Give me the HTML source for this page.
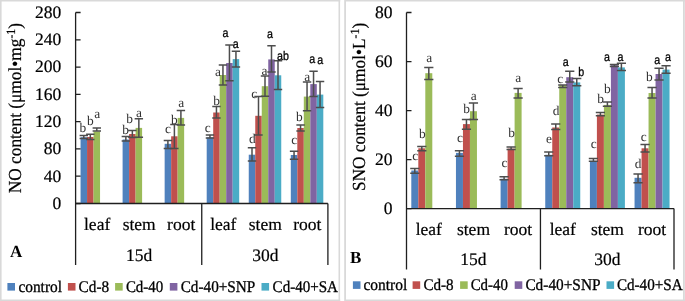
<!DOCTYPE html><html><head><meta charset="utf-8"><style>html,body{margin:0;padding:0;background:#fff;}svg{display:block;will-change:transform;text-rendering:geometricPrecision;}</style></head><body>
<svg width="685" height="301" viewBox="0 0 685 301">
<rect width="685" height="301" fill="#fff"/>
<path d="M0.8 0V301M0 0.7H340.3M339.3 0V301M0 300.3H340.3" stroke="#d9d9d9" stroke-width="1.6" fill="none"/>
<path d="M345.1 0V301M344.2 0.7H685M683.9 0V301M344.2 300.3H685" stroke="#d9d9d9" stroke-width="1.8" fill="none"/>
<rect x="80.55" y="137.2" width="6.5" height="66.3" fill="#4F81BD"/>
<rect x="87.05" y="137" width="6.5" height="66.5" fill="#C0504D"/>
<rect x="93.55" y="131.5" width="6.5" height="72" fill="#9BBB59"/>
<rect x="122.6" y="139.5" width="6.5" height="64" fill="#4F81BD"/>
<rect x="129.1" y="134" width="6.5" height="69.5" fill="#C0504D"/>
<rect x="135.6" y="127.9" width="6.5" height="75.6" fill="#9BBB59"/>
<rect x="164.65" y="143.8" width="6.5" height="59.7" fill="#4F81BD"/>
<rect x="171.15" y="136.3" width="6.5" height="67.2" fill="#C0504D"/>
<rect x="177.65" y="117.9" width="6.5" height="85.6" fill="#9BBB59"/>
<rect x="206.7" y="137.4" width="6.5" height="66.1" fill="#4F81BD"/>
<rect x="213.2" y="112.5" width="6.5" height="91" fill="#C0504D"/>
<rect x="219.7" y="75" width="6.5" height="128.5" fill="#9BBB59"/>
<rect x="226.2" y="63" width="6.5" height="140.5" fill="#8064A2"/>
<rect x="232.7" y="59.1" width="6.5" height="144.4" fill="#4BACC6"/>
<rect x="248.75" y="154.7" width="6.5" height="48.8" fill="#4F81BD"/>
<rect x="255.25" y="115.8" width="6.5" height="87.7" fill="#C0504D"/>
<rect x="261.75" y="86.2" width="6.5" height="117.3" fill="#9BBB59"/>
<rect x="268.25" y="59.4" width="6.5" height="144.1" fill="#8064A2"/>
<rect x="274.75" y="75.3" width="6.5" height="128.2" fill="#4BACC6"/>
<rect x="290.8" y="155" width="6.5" height="48.5" fill="#4F81BD"/>
<rect x="297.3" y="128" width="6.5" height="75.5" fill="#C0504D"/>
<rect x="303.8" y="96.6" width="6.5" height="106.9" fill="#9BBB59"/>
<rect x="310.3" y="84.1" width="6.5" height="119.4" fill="#8064A2"/>
<rect x="316.8" y="94.6" width="6.5" height="108.9" fill="#4BACC6"/>
<path d="M83.8 135.6V138.6M79.6 135.6H88M79.6 138.6H88" stroke="#4d4d4d" stroke-width="1.5" fill="none"/>
<path d="M90.3 134.3V139.6M86.1 134.3H94.5M86.1 139.6H94.5" stroke="#4d4d4d" stroke-width="1.5" fill="none"/>
<path d="M96.8 128V131M92.6 128H101M92.6 131H101" stroke="#4d4d4d" stroke-width="1.5" fill="none"/>
<path d="M125.85 136.4V141M121.65 136.4H130.05M121.65 141H130.05" stroke="#4d4d4d" stroke-width="1.5" fill="none"/>
<path d="M132.35 130.6V137.6M128.15 130.6H136.55M128.15 137.6H136.55" stroke="#4d4d4d" stroke-width="1.5" fill="none"/>
<path d="M138.85 118.8V137.2M134.65 118.8H143.05M134.65 137.2H143.05" stroke="#4d4d4d" stroke-width="1.5" fill="none"/>
<path d="M167.9 140.4V148.4M163.7 140.4H172.1M163.7 148.4H172.1" stroke="#4d4d4d" stroke-width="1.5" fill="none"/>
<path d="M174.4 124.5V148.4M170.2 124.5H178.6M170.2 148.4H178.6" stroke="#4d4d4d" stroke-width="1.5" fill="none"/>
<path d="M180.9 110.6V124.9M176.7 110.6H185.1M176.7 124.9H185.1" stroke="#4d4d4d" stroke-width="1.5" fill="none"/>
<path d="M209.95 134.9V137.9M205.75 134.9H214.15M205.75 137.9H214.15" stroke="#4d4d4d" stroke-width="1.5" fill="none"/>
<path d="M216.45 106.6V117.9M212.25 106.6H220.65M212.25 117.9H220.65" stroke="#4d4d4d" stroke-width="1.5" fill="none"/>
<path d="M222.95 65V84.9M218.75 65H227.15M218.75 84.9H227.15" stroke="#4d4d4d" stroke-width="1.5" fill="none"/>
<path d="M229.45 44.9V80.8M225.25 44.9H233.65M225.25 80.8H233.65" stroke="#4d4d4d" stroke-width="1.5" fill="none"/>
<path d="M235.95 51.2V67M231.75 51.2H240.15M231.75 67H240.15" stroke="#4d4d4d" stroke-width="1.5" fill="none"/>
<path d="M252 147.7V160.9M247.8 147.7H256.2M247.8 160.9H256.2" stroke="#4d4d4d" stroke-width="1.5" fill="none"/>
<path d="M258.5 96.6V134.9M254.3 96.6H262.7M254.3 134.9H262.7" stroke="#4d4d4d" stroke-width="1.5" fill="none"/>
<path d="M265 76.1V96.3M260.8 76.1H269.2M260.8 96.3H269.2" stroke="#4d4d4d" stroke-width="1.5" fill="none"/>
<path d="M271.5 45.8V72M267.3 45.8H275.7M267.3 72H275.7" stroke="#4d4d4d" stroke-width="1.5" fill="none"/>
<path d="M278 60.7V89.6M273.8 60.7H282.2M273.8 89.6H282.2" stroke="#4d4d4d" stroke-width="1.5" fill="none"/>
<path d="M294.05 151.2V159.2M289.85 151.2H298.25M289.85 159.2H298.25" stroke="#4d4d4d" stroke-width="1.5" fill="none"/>
<path d="M300.55 124.9V131M296.35 124.9H304.75M296.35 131H304.75" stroke="#4d4d4d" stroke-width="1.5" fill="none"/>
<path d="M307.05 82V110.7M302.85 82H311.25M302.85 110.7H311.25" stroke="#4d4d4d" stroke-width="1.5" fill="none"/>
<path d="M313.55 71.2V96.6M309.35 71.2H317.75M309.35 96.6H317.75" stroke="#4d4d4d" stroke-width="1.5" fill="none"/>
<path d="M320.05 81.6V107.4M315.85 81.6H324.25M315.85 107.4H324.25" stroke="#4d4d4d" stroke-width="1.5" fill="none"/>
<path d="M75.6 12.5V265M75.6 203.5H327.9M327.9 203.5V265M201.75 203.5V265" stroke="#1f1f1f" stroke-width="1.3" fill="none"/>
<path d="M75.6 203.5H80.6M75.6 176.21H80.6M75.6 148.93H80.6M75.6 121.64H80.6M75.6 94.36H80.6M75.6 67.07H80.6M75.6 39.79H80.6M75.6 12.5H80.6" stroke="#1f1f1f" stroke-width="1.3" fill="none"/>
<text x="61.3" y="208.9" text-anchor="end" font-family='"Liberation Serif", serif' font-size="17.5" stroke="#000" stroke-width="0.2">0</text>
<text x="61.3" y="181.61" text-anchor="end" font-family='"Liberation Serif", serif' font-size="17.5" stroke="#000" stroke-width="0.2">40</text>
<text x="61.3" y="154.33" text-anchor="end" font-family='"Liberation Serif", serif' font-size="17.5" stroke="#000" stroke-width="0.2">80</text>
<text x="61.3" y="127.04" text-anchor="end" font-family='"Liberation Serif", serif' font-size="17.5" stroke="#000" stroke-width="0.2">120</text>
<text x="61.3" y="99.76" text-anchor="end" font-family='"Liberation Serif", serif' font-size="17.5" stroke="#000" stroke-width="0.2">160</text>
<text x="61.3" y="72.47" text-anchor="end" font-family='"Liberation Serif", serif' font-size="17.5" stroke="#000" stroke-width="0.2">200</text>
<text x="61.3" y="45.19" text-anchor="end" font-family='"Liberation Serif", serif' font-size="17.5" stroke="#000" stroke-width="0.2">240</text>
<text x="61.3" y="17.9" text-anchor="end" font-family='"Liberation Serif", serif' font-size="17.5" stroke="#000" stroke-width="0.2">280</text>
<text x="97.12" y="229.7" text-anchor="middle" font-family='"Liberation Serif", serif' font-size="17.5" stroke="#000" stroke-width="0.2">leaf</text>
<text x="139.17" y="229.7" text-anchor="middle" font-family='"Liberation Serif", serif' font-size="17.5" stroke="#000" stroke-width="0.2">stem</text>
<text x="181.22" y="229.7" text-anchor="middle" font-family='"Liberation Serif", serif' font-size="17.5" stroke="#000" stroke-width="0.2">root</text>
<text x="223.28" y="229.7" text-anchor="middle" font-family='"Liberation Serif", serif' font-size="17.5" stroke="#000" stroke-width="0.2">leaf</text>
<text x="265.32" y="229.7" text-anchor="middle" font-family='"Liberation Serif", serif' font-size="17.5" stroke="#000" stroke-width="0.2">stem</text>
<text x="307.38" y="229.7" text-anchor="middle" font-family='"Liberation Serif", serif' font-size="17.5" stroke="#000" stroke-width="0.2">root</text>
<text x="139.17" y="260.5" text-anchor="middle" font-family='"Liberation Serif", serif' font-size="17.5" stroke="#000" stroke-width="0.2">15d</text>
<text x="265.32" y="260.5" text-anchor="middle" font-family='"Liberation Serif", serif' font-size="17.5" stroke="#000" stroke-width="0.2">30d</text>
<text x="82.95" y="132.4" text-anchor="middle" font-family='"Liberation Serif", serif' font-size="13.4" fill="#333333">b</text>
<text x="90.25" y="125.4" text-anchor="middle" font-family='"Liberation Serif", serif' font-size="13.4" fill="#333333">b</text>
<text x="97.3" y="117.7" text-anchor="middle" font-family='"Liberation Serif", serif' font-size="13.4" fill="#333333">a</text>
<text x="125.65" y="133.8" text-anchor="middle" font-family='"Liberation Serif", serif' font-size="13.4" fill="#333333">b</text>
<text x="129.6" y="122.7" text-anchor="middle" font-family='"Liberation Serif", serif' font-size="13.4" fill="#333333">b</text>
<text x="138.95" y="117" text-anchor="middle" font-family='"Liberation Serif", serif' font-size="13.4" fill="#333333">a</text>
<text x="168.1" y="133.4" text-anchor="middle" font-family='"Liberation Serif", serif' font-size="13.4" fill="#333333">c</text>
<text x="174.3" y="124.4" text-anchor="middle" font-family='"Liberation Serif", serif' font-size="13.4" fill="#333333">b</text>
<text x="181.3" y="107" text-anchor="middle" font-family='"Liberation Serif", serif' font-size="13.4" fill="#333333">a</text>
<text x="207.65" y="131.6" text-anchor="middle" font-family='"Liberation Serif", serif' font-size="13.4" fill="#333333">c</text>
<text x="216.5" y="104.9" text-anchor="middle" font-family='"Liberation Serif", serif' font-size="13.4" fill="#333333">b</text>
<text x="217.95" y="76.4" text-anchor="middle" font-family='"Liberation Serif", serif' font-size="13.4" fill="#333333">a</text>
<text transform="translate(225.4 37.4) scale(0.86 1)" text-anchor="middle" font-family='"Liberation Sans", sans-serif' font-size="12.4" fill="#000" stroke="#000" stroke-width="0.3">a</text>
<text transform="translate(235.8 47.7) scale(0.86 1)" text-anchor="middle" font-family='"Liberation Sans", sans-serif' font-size="12.4" fill="#000" stroke="#000" stroke-width="0.3">a</text>
<text x="252.45" y="143.4" text-anchor="middle" font-family='"Liberation Serif", serif' font-size="13.4" fill="#333333">d</text>
<text x="254.3" y="97.8" text-anchor="middle" font-family='"Liberation Serif", serif' font-size="13.4" fill="#333333">c</text>
<text x="264.45" y="75.4" text-anchor="middle" font-family='"Liberation Serif", serif' font-size="13.4" fill="#333333">a</text>
<text transform="translate(270 37.8) scale(0.86 1)" text-anchor="middle" font-family='"Liberation Sans", sans-serif' font-size="12.4" fill="#000" stroke="#000" stroke-width="0.3">a</text>
<text transform="translate(282.9 60.2) scale(0.86 1)" text-anchor="middle" font-family='"Liberation Sans", sans-serif' font-size="12.4" fill="#000" stroke="#000" stroke-width="0.3">ab</text>
<text x="294.3" y="144.3" text-anchor="middle" font-family='"Liberation Serif", serif' font-size="13.4" fill="#333333">c</text>
<text x="299.25" y="121.4" text-anchor="middle" font-family='"Liberation Serif", serif' font-size="13.4" fill="#333333">b</text>
<text x="307.15" y="81.1" text-anchor="middle" font-family='"Liberation Serif", serif' font-size="13.4" fill="#333333">a</text>
<text transform="translate(312.25 62.5) scale(0.86 1)" text-anchor="middle" font-family='"Liberation Sans", sans-serif' font-size="12.4" fill="#000" stroke="#000" stroke-width="0.3">a</text>
<text transform="translate(320.15 64.1) scale(0.86 1)" text-anchor="middle" font-family='"Liberation Sans", sans-serif' font-size="12.4" fill="#000" stroke="#000" stroke-width="0.3">a</text>
<text transform="translate(20.8 193.2) rotate(-90) scale(0.988 1.05)" font-family='"Liberation Serif", serif' font-size="17.5" stroke="#000" stroke-width="0.2">NO content (μmol•mg<tspan font-size="12" dy="-5.3">-1</tspan><tspan dy="5.3">)</tspan></text>
<text x="10" y="256.6" font-family='"Liberation Serif", serif' font-weight="bold" font-size="17">A</text>
<rect x="411.3" y="170.5" width="7" height="38.1" fill="#4F81BD"/>
<rect x="418.3" y="148.3" width="7" height="60.3" fill="#C0504D"/>
<rect x="425.3" y="73.2" width="7" height="135.4" fill="#9BBB59"/>
<rect x="455.95" y="152.9" width="7" height="55.7" fill="#4F81BD"/>
<rect x="462.95" y="124.1" width="7" height="84.5" fill="#C0504D"/>
<rect x="469.95" y="111.2" width="7" height="97.4" fill="#9BBB59"/>
<rect x="500.6" y="178.8" width="7" height="29.8" fill="#4F81BD"/>
<rect x="507.6" y="148.6" width="7" height="60" fill="#C0504D"/>
<rect x="514.6" y="92.9" width="7" height="115.7" fill="#9BBB59"/>
<rect x="545.25" y="154.8" width="7" height="53.8" fill="#4F81BD"/>
<rect x="552.25" y="127.5" width="7" height="81.1" fill="#C0504D"/>
<rect x="559.25" y="85.2" width="7" height="123.4" fill="#9BBB59"/>
<rect x="566.25" y="77.2" width="7" height="131.4" fill="#8064A2"/>
<rect x="573.25" y="82.4" width="7" height="126.2" fill="#4BACC6"/>
<rect x="589.9" y="161.2" width="7" height="47.4" fill="#4F81BD"/>
<rect x="596.9" y="114.6" width="7" height="94" fill="#C0504D"/>
<rect x="603.9" y="104.9" width="7" height="103.7" fill="#9BBB59"/>
<rect x="610.9" y="65.2" width="7" height="143.4" fill="#8064A2"/>
<rect x="617.9" y="67.4" width="7" height="141.2" fill="#4BACC6"/>
<rect x="634.55" y="177.8" width="7" height="30.8" fill="#4F81BD"/>
<rect x="641.55" y="148.3" width="7" height="60.3" fill="#C0504D"/>
<rect x="648.55" y="93" width="7" height="115.6" fill="#9BBB59"/>
<rect x="655.55" y="74" width="7" height="134.6" fill="#8064A2"/>
<rect x="662.55" y="69.6" width="7" height="139" fill="#4BACC6"/>
<path d="M414.8 168.5V173.2M410.2 168.5H419.4M410.2 173.2H419.4" stroke="#4d4d4d" stroke-width="1.5" fill="none"/>
<path d="M421.8 146.6V150.8M417.2 146.6H426.4M417.2 150.8H426.4" stroke="#4d4d4d" stroke-width="1.5" fill="none"/>
<path d="M428.8 67.4V79.4M424.2 67.4H433.4M424.2 79.4H433.4" stroke="#4d4d4d" stroke-width="1.5" fill="none"/>
<path d="M459.45 150.7V156.2M454.85 150.7H464.05M454.85 156.2H464.05" stroke="#4d4d4d" stroke-width="1.5" fill="none"/>
<path d="M466.45 119.4V129.3M461.85 119.4H471.05M461.85 129.3H471.05" stroke="#4d4d4d" stroke-width="1.5" fill="none"/>
<path d="M473.45 102.9V119.5M468.85 102.9H478.05M468.85 119.5H478.05" stroke="#4d4d4d" stroke-width="1.5" fill="none"/>
<path d="M504.1 176.8V179.8M499.5 176.8H508.7M499.5 179.8H508.7" stroke="#4d4d4d" stroke-width="1.5" fill="none"/>
<path d="M511.1 146.9V149.5M506.5 146.9H515.7M506.5 149.5H515.7" stroke="#4d4d4d" stroke-width="1.5" fill="none"/>
<path d="M518.1 88.6V97.9M513.5 88.6H522.7M513.5 97.9H522.7" stroke="#4d4d4d" stroke-width="1.5" fill="none"/>
<path d="M548.75 151.9V155.8M544.15 151.9H553.35M544.15 155.8H553.35" stroke="#4d4d4d" stroke-width="1.5" fill="none"/>
<path d="M555.75 124V129.5M551.15 124H560.35M551.15 129.5H560.35" stroke="#4d4d4d" stroke-width="1.5" fill="none"/>
<path d="M562.75 84.9V87.4M558.15 84.9H567.35M558.15 87.4H567.35" stroke="#4d4d4d" stroke-width="1.5" fill="none"/>
<path d="M569.75 71.2V81.9M565.15 71.2H574.35M565.15 81.9H574.35" stroke="#4d4d4d" stroke-width="1.5" fill="none"/>
<path d="M576.75 78.5V85.7M572.15 78.5H581.35M572.15 85.7H581.35" stroke="#4d4d4d" stroke-width="1.5" fill="none"/>
<path d="M593.4 158.6V161.2M588.8 158.6H598M588.8 161.2H598" stroke="#4d4d4d" stroke-width="1.5" fill="none"/>
<path d="M600.4 112.4V115.7M595.8 112.4H605M595.8 115.7H605" stroke="#4d4d4d" stroke-width="1.5" fill="none"/>
<path d="M607.4 101.9V106.2M602.8 101.9H612M602.8 106.2H612" stroke="#4d4d4d" stroke-width="1.5" fill="none"/>
<path d="M614.4 64.6V66.6M609.8 64.6H619M609.8 66.6H619" stroke="#4d4d4d" stroke-width="1.5" fill="none"/>
<path d="M621.4 63.3V70.4M616.8 63.3H626M616.8 70.4H626" stroke="#4d4d4d" stroke-width="1.5" fill="none"/>
<path d="M638.05 173.9V182.8M633.45 173.9H642.65M633.45 182.8H642.65" stroke="#4d4d4d" stroke-width="1.5" fill="none"/>
<path d="M645.05 144.4V151.9M640.45 144.4H649.65M640.45 151.9H649.65" stroke="#4d4d4d" stroke-width="1.5" fill="none"/>
<path d="M652.05 87.5V97.9M647.45 87.5H656.65M647.45 97.9H656.65" stroke="#4d4d4d" stroke-width="1.5" fill="none"/>
<path d="M659.05 68.2V79.9M654.45 68.2H663.65M654.45 79.9H663.65" stroke="#4d4d4d" stroke-width="1.5" fill="none"/>
<path d="M666.05 65.7V73.2M661.45 65.7H670.65M661.45 73.2H670.65" stroke="#4d4d4d" stroke-width="1.5" fill="none"/>
<path d="M406.5 12.5V269.5M406.5 208.6H674M674 208.6V269.5M540.45 208.6V269.5" stroke="#1f1f1f" stroke-width="1.3" fill="none"/>
<path d="M406.5 208.6H411.5M406.5 159.57H411.5M406.5 110.55H411.5M406.5 61.53H411.5M406.5 12.5H411.5" stroke="#1f1f1f" stroke-width="1.3" fill="none"/>
<text x="392.4" y="214" text-anchor="end" font-family='"Liberation Serif", serif' font-size="17.5" stroke="#000" stroke-width="0.2">0</text>
<text x="392.4" y="164.97" text-anchor="end" font-family='"Liberation Serif", serif' font-size="17.5" stroke="#000" stroke-width="0.2">20</text>
<text x="392.4" y="115.95" text-anchor="end" font-family='"Liberation Serif", serif' font-size="17.5" stroke="#000" stroke-width="0.2">40</text>
<text x="392.4" y="66.93" text-anchor="end" font-family='"Liberation Serif", serif' font-size="17.5" stroke="#000" stroke-width="0.2">60</text>
<text x="392.4" y="17.9" text-anchor="end" font-family='"Liberation Serif", serif' font-size="17.5" stroke="#000" stroke-width="0.2">80</text>
<text x="428.82" y="234.9" text-anchor="middle" font-family='"Liberation Serif", serif' font-size="17.5" stroke="#000" stroke-width="0.2">leaf</text>
<text x="473.47" y="234.9" text-anchor="middle" font-family='"Liberation Serif", serif' font-size="17.5" stroke="#000" stroke-width="0.2">stem</text>
<text x="518.12" y="234.9" text-anchor="middle" font-family='"Liberation Serif", serif' font-size="17.5" stroke="#000" stroke-width="0.2">root</text>
<text x="562.78" y="234.9" text-anchor="middle" font-family='"Liberation Serif", serif' font-size="17.5" stroke="#000" stroke-width="0.2">leaf</text>
<text x="607.43" y="234.9" text-anchor="middle" font-family='"Liberation Serif", serif' font-size="17.5" stroke="#000" stroke-width="0.2">stem</text>
<text x="652.08" y="234.9" text-anchor="middle" font-family='"Liberation Serif", serif' font-size="17.5" stroke="#000" stroke-width="0.2">root</text>
<text x="473.48" y="265.1" text-anchor="middle" font-family='"Liberation Serif", serif' font-size="17.5" stroke="#000" stroke-width="0.2">15d</text>
<text x="607.42" y="265.1" text-anchor="middle" font-family='"Liberation Serif", serif' font-size="17.5" stroke="#000" stroke-width="0.2">30d</text>
<text x="415.3" y="160" text-anchor="middle" font-family='"Liberation Serif", serif' font-size="13.4" fill="#333333">c</text>
<text x="422.3" y="137.9" text-anchor="middle" font-family='"Liberation Serif", serif' font-size="13.4" fill="#333333">b</text>
<text x="429.25" y="62.3" text-anchor="middle" font-family='"Liberation Serif", serif' font-size="13.4" fill="#333333">a</text>
<text x="460.05" y="142" text-anchor="middle" font-family='"Liberation Serif", serif' font-size="13.4" fill="#333333">c</text>
<text x="466.5" y="112.8" text-anchor="middle" font-family='"Liberation Serif", serif' font-size="13.4" fill="#333333">b</text>
<text x="473.8" y="100.3" text-anchor="middle" font-family='"Liberation Serif", serif' font-size="13.4" fill="#333333">a</text>
<text x="504.5" y="167.3" text-anchor="middle" font-family='"Liberation Serif", serif' font-size="13.4" fill="#333333">c</text>
<text x="511.6" y="136.7" text-anchor="middle" font-family='"Liberation Serif", serif' font-size="13.4" fill="#333333">b</text>
<text x="518.3" y="82.3" text-anchor="middle" font-family='"Liberation Serif", serif' font-size="13.4" fill="#333333">a</text>
<text x="549.1" y="142.7" text-anchor="middle" font-family='"Liberation Serif", serif' font-size="13.4" fill="#333333">e</text>
<text x="556.1" y="115.4" text-anchor="middle" font-family='"Liberation Serif", serif' font-size="13.4" fill="#333333">d</text>
<text x="560.3" y="83.4" text-anchor="middle" font-family='"Liberation Serif", serif' font-size="13.4" fill="#333333">c</text>
<text transform="translate(565.7 66.3) scale(0.86 1)" text-anchor="middle" font-family='"Liberation Sans", sans-serif' font-size="12.4" fill="#000" stroke="#000" stroke-width="0.3">a</text>
<text transform="translate(581.1 75.8) scale(0.86 1)" text-anchor="middle" font-family='"Liberation Sans", sans-serif' font-size="12.4" fill="#000" stroke="#000" stroke-width="0.3">b</text>
<text x="593.85" y="148.3" text-anchor="middle" font-family='"Liberation Serif", serif' font-size="13.4" fill="#333333">c</text>
<text x="600.5" y="102.8" text-anchor="middle" font-family='"Liberation Serif", serif' font-size="13.4" fill="#333333">b</text>
<text x="607.3" y="93.4" text-anchor="middle" font-family='"Liberation Serif", serif' font-size="13.4" fill="#333333">b</text>
<text transform="translate(606.85 61.1) scale(0.86 1)" text-anchor="middle" font-family='"Liberation Sans", sans-serif' font-size="12.4" fill="#000" stroke="#000" stroke-width="0.3">a</text>
<text transform="translate(620.55 61.1) scale(0.86 1)" text-anchor="middle" font-family='"Liberation Sans", sans-serif' font-size="12.4" fill="#000" stroke="#000" stroke-width="0.3">a</text>
<text x="638" y="167.9" text-anchor="middle" font-family='"Liberation Serif", serif' font-size="13.4" fill="#333333">d</text>
<text x="643.8" y="141.4" text-anchor="middle" font-family='"Liberation Serif", serif' font-size="13.4" fill="#333333">c</text>
<text x="649.4" y="80.6" text-anchor="middle" font-family='"Liberation Serif", serif' font-size="13.4" fill="#333333">b</text>
<text transform="translate(657.25 64.4) scale(0.86 1)" text-anchor="middle" font-family='"Liberation Sans", sans-serif' font-size="12.4" fill="#000" stroke="#000" stroke-width="0.3">a</text>
<text transform="translate(667.95 61.1) scale(0.86 1)" text-anchor="middle" font-family='"Liberation Sans", sans-serif' font-size="12.4" fill="#000" stroke="#000" stroke-width="0.3">a</text>
<text transform="translate(364.6 191.1) rotate(-90) scale(0.988 1.05)" font-family='"Liberation Serif", serif' font-size="17.5" stroke="#000" stroke-width="0.2">SNO content (μmol•L<tspan font-size="12" dy="-5.3">-1</tspan><tspan dy="5.3">)</tspan></text>
<text x="350" y="262.6" font-family='"Liberation Serif", serif' font-weight="bold" font-size="17">B</text>
<rect x="7.4" y="283" width="7.6" height="7.6" fill="#4F81BD"/>
<text x="18.4" y="292" font-family='"Liberation Serif", serif' font-size="16.3" stroke="#000" stroke-width="0.3" textLength="43.6" lengthAdjust="spacingAndGlyphs">control</text>
<rect x="67.9" y="283" width="7.6" height="7.6" fill="#C0504D"/>
<text x="78.6" y="292" font-family='"Liberation Serif", serif' font-size="16.3" stroke="#000" stroke-width="0.3" textLength="30.5" lengthAdjust="spacingAndGlyphs">Cd-8</text>
<rect x="115.1" y="283" width="7.6" height="7.6" fill="#9BBB59"/>
<text x="125.9" y="292" font-family='"Liberation Serif", serif' font-size="16.3" stroke="#000" stroke-width="0.3" textLength="37.4" lengthAdjust="spacingAndGlyphs">Cd-40</text>
<rect x="169.8" y="283" width="7.6" height="7.6" fill="#8064A2"/>
<text x="180.7" y="292" font-family='"Liberation Serif", serif' font-size="16.3" stroke="#000" stroke-width="0.3" textLength="74.6" lengthAdjust="spacingAndGlyphs">Cd-40+SNP</text>
<rect x="261.5" y="283" width="7.6" height="7.6" fill="#4BACC6"/>
<text x="272.6" y="292" font-family='"Liberation Serif", serif' font-size="16.3" stroke="#000" stroke-width="0.3" textLength="65.4" lengthAdjust="spacingAndGlyphs">Cd-40+SA</text>
<rect x="352.9" y="281.3" width="7.6" height="7.6" fill="#4F81BD"/>
<text x="363.5" y="290.3" font-family='"Liberation Serif", serif' font-size="16.3" stroke="#000" stroke-width="0.3" textLength="43.8" lengthAdjust="spacingAndGlyphs">control</text>
<rect x="412.6" y="281.3" width="7.6" height="7.6" fill="#C0504D"/>
<text x="423.4" y="290.3" font-family='"Liberation Serif", serif' font-size="16.3" stroke="#000" stroke-width="0.3" textLength="30.2" lengthAdjust="spacingAndGlyphs">Cd-8</text>
<rect x="460.1" y="281.3" width="7.6" height="7.6" fill="#9BBB59"/>
<text x="470.7" y="290.3" font-family='"Liberation Serif", serif' font-size="16.3" stroke="#000" stroke-width="0.3" textLength="37.2" lengthAdjust="spacingAndGlyphs">Cd-40</text>
<rect x="514.7" y="281.3" width="7.6" height="7.6" fill="#8064A2"/>
<text x="525.4" y="290.3" font-family='"Liberation Serif", serif' font-size="16.3" stroke="#000" stroke-width="0.3" textLength="75.1" lengthAdjust="spacingAndGlyphs">Cd-40+SNP</text>
<rect x="606.5" y="281.3" width="7.6" height="7.6" fill="#4BACC6"/>
<text x="616.9" y="290.3" font-family='"Liberation Serif", serif' font-size="16.3" stroke="#000" stroke-width="0.3" textLength="65.8" lengthAdjust="spacingAndGlyphs">Cd-40+SA</text>
</svg></body></html>
